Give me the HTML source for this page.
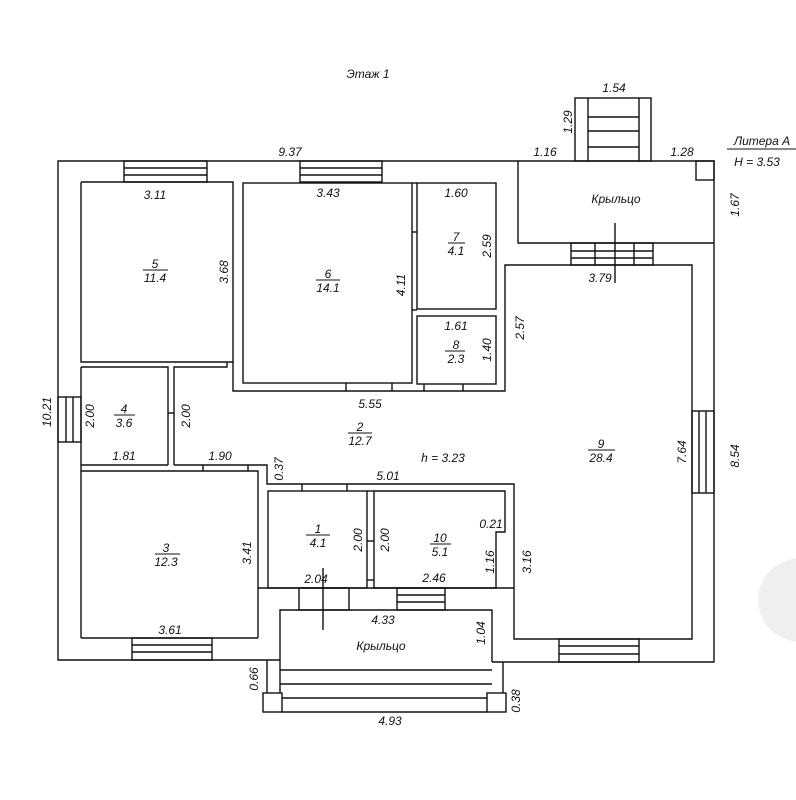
<!DOCTYPE html>
<html><head><meta charset="utf-8"><style>
html,body{margin:0;padding:0;background:#fff;}
svg{display:block;}
text{font-family:"Liberation Sans","DejaVu Sans",sans-serif;font-style:italic;font-size:12px;fill:#111;text-anchor:middle;}
</style></head><body>
<svg width="796" height="800" viewBox="0 0 796 800" xmlns="http://www.w3.org/2000/svg">
<circle cx="800" cy="600" r="42" fill="#f0f0f0"/>
<g fill="none" stroke="#111" stroke-width="1.4">
<polyline points="518,161 58,161 58,660 280,660"/>
<polyline points="492,662 714,662 714,161 518,161"/>
<polyline points="518,161 518,243 714,243"/>
<rect x="696" y="161" width="18" height="19"/>
<rect x="575" y="98" width="76" height="63"/>
<line x1="588" y1="98" x2="588" y2="161"/><line x1="639" y1="98" x2="639" y2="161"/>
<line x1="588" y1="117" x2="639" y2="117"/><line x1="588" y1="131" x2="639" y2="131"/><line x1="588" y1="147" x2="639" y2="147"/>
<rect x="571" y="243" width="82" height="22"/>
<line x1="595" y1="243" x2="595" y2="265"/><line x1="634" y1="243" x2="634" y2="265"/>
<line x1="571" y1="251" x2="653" y2="251"/><line x1="571" y1="258" x2="653" y2="258"/>
<line x1="615" y1="223" x2="615" y2="283"/>
<rect x="124" y="161" width="83" height="21"/><line x1="124" y1="168" x2="207" y2="168"/><line x1="124" y1="175" x2="207" y2="175"/>
<rect x="300" y="161" width="82" height="21"/><line x1="300" y1="168" x2="382" y2="168"/><line x1="300" y1="175" x2="382" y2="175"/>
<rect x="58" y="397" width="23" height="45"/><line x1="66" y1="397" x2="66" y2="442"/><line x1="73" y1="397" x2="73" y2="442"/>
<rect x="692" y="411" width="22" height="82"/><line x1="699" y1="411" x2="699" y2="493"/><line x1="706" y1="411" x2="706" y2="493"/>
<rect x="132" y="638" width="80" height="22"/><line x1="132" y1="645" x2="212" y2="645"/><line x1="132" y1="652" x2="212" y2="652"/>
<rect x="559" y="639" width="80" height="23"/><line x1="559" y1="646" x2="639" y2="646"/><line x1="559" y1="654" x2="639" y2="654"/>
<polyline points="81,182 233,182 233,362 81,362 81,182"/>
<polyline points="81,367 168,367 168,465"/>
<line x1="81" y1="465" x2="168" y2="465"/>
<polyline points="174,465 174,367 227,367 227,362"/>
<rect x="243" y="183" width="169" height="200"/>
<polyline points="233,362 233,391 505,391 505,265 692,265 692,639 514,639 514,484 267,484 267,465 174,465"/>
<line x1="346" y1="383" x2="346" y2="391"/><line x1="392" y1="383" x2="392" y2="391"/>
<rect x="417" y="183" width="79" height="126"/>
<rect x="417" y="316" width="79" height="68"/>
<line x1="412" y1="183" x2="417" y2="183"/>
<line x1="412" y1="232" x2="417" y2="232"/><line x1="412" y1="310" x2="417" y2="310"/>
<line x1="424" y1="384" x2="424" y2="391"/><line x1="463" y1="384" x2="463" y2="391"/>
<line x1="81" y1="367" x2="81" y2="471"/>
<line x1="168" y1="413" x2="174" y2="413"/>
<polyline points="81,471 258,471 258,588 280,588"/>
<line x1="81" y1="638" x2="258" y2="638"/>
<line x1="258" y1="588" x2="258" y2="638"/>
<line x1="81" y1="471" x2="81" y2="638"/>
<line x1="203" y1="465" x2="203" y2="471"/><line x1="248" y1="465" x2="248" y2="471"/>
<rect x="268" y="491" width="99" height="97"/>
<line x1="302" y1="484" x2="302" y2="491"/><line x1="347" y1="484" x2="347" y2="491"/>
<line x1="367" y1="491" x2="374" y2="491"/>
<line x1="367" y1="541" x2="374" y2="541"/><line x1="367" y1="580" x2="374" y2="580"/>
<polyline points="374,491 505,491 505,532 496,532 496,588 374,588 374,491"/>
<line x1="280" y1="588" x2="514" y2="588"/>
<rect x="299" y="588" width="50" height="22"/>
<rect x="397" y="588" width="48" height="22"/><line x1="397" y1="595" x2="445" y2="595"/><line x1="397" y1="602" x2="445" y2="602"/>
<line x1="323" y1="568" x2="323" y2="630"/>
<polyline points="280,693 280,610 492,610 492,662"/>
<line x1="280" y1="670" x2="492" y2="670"/>
<line x1="280" y1="684" x2="492" y2="684"/>
<line x1="282" y1="698" x2="487" y2="698"/>
<line x1="282" y1="712" x2="487" y2="712"/>
<line x1="267" y1="660" x2="267" y2="693"/>
<line x1="503" y1="662" x2="503" y2="693"/>
<rect x="263" y="693" width="19" height="19"/>
<rect x="487" y="693" width="19" height="19"/>
<line x1="727" y1="149" x2="796" y2="149" stroke-width="1"/>
<g stroke-width="1">
<line x1="143" y1="270" x2="168" y2="270"/>
<line x1="316" y1="280" x2="340" y2="280"/>
<line x1="448" y1="243" x2="465" y2="243"/>
<line x1="445" y1="351" x2="465" y2="351"/>
<line x1="114" y1="415" x2="135" y2="415"/>
<line x1="348" y1="433" x2="372" y2="433"/>
<line x1="588" y1="450" x2="615" y2="450"/>
<line x1="306" y1="535" x2="330" y2="535"/>
<line x1="430" y1="544" x2="451" y2="544"/>
<line x1="155" y1="554" x2="180" y2="554"/>
</g>
</g>
<text x="368" y="78">Этаж 1</text>
<text x="290" y="156">9.37</text>
<text x="155" y="199">3.11</text>
<text x="328" y="197">3.43</text>
<text x="456" y="197">1.60</text>
<text x="614" y="92">1.54</text>
<text transform="translate(572,122) rotate(-90)">1.29</text>
<text x="545" y="156">1.16</text>
<text x="682" y="156">1.28</text>
<text x="762" y="145">Литера А</text>
<text x="757" y="166">H = 3.53</text>
<text transform="translate(739,205) rotate(-90)">1.67</text>
<text x="616" y="203">Крыльцо</text>
<text x="155" y="268">5</text><text x="155" y="282">11.4</text>
<text transform="translate(228,272) rotate(-90)">3.68</text>
<text x="328" y="278">6</text><text x="328" y="292">14.1</text>
<text transform="translate(405,285) rotate(-90)">4.11</text>
<text x="456" y="241">7</text><text x="456" y="255">4.1</text>
<text transform="translate(491,246) rotate(-90)">2.59</text>
<text x="600" y="282">3.79</text>
<text transform="translate(524,328) rotate(-90)">2.57</text>
<text x="456" y="330">1.61</text>
<text x="456" y="349">8</text><text x="456" y="363">2.3</text>
<text transform="translate(491,350) rotate(-90)">1.40</text>
<text x="370" y="408">5.55</text>
<text transform="translate(51,412) rotate(-90)">10.21</text>
<text transform="translate(94,416) rotate(-90)">2.00</text>
<text x="124" y="413">4</text><text x="124" y="427">3.6</text>
<text transform="translate(190,416) rotate(-90)">2.00</text>
<text x="360" y="431">2</text><text x="360" y="445">12.7</text>
<text x="443" y="462">h = 3.23</text>
<text x="601" y="448">9</text><text x="601" y="462">28.4</text>
<text transform="translate(686,452) rotate(-90)">7.64</text>
<text transform="translate(739,456) rotate(-90)">8.54</text>
<text x="124" y="460">1.81</text>
<text x="220" y="460">1.90</text>
<text transform="translate(283,469) rotate(-90)">0.37</text>
<text x="388" y="480">5.01</text>
<text x="491" y="528">0.21</text>
<text x="318" y="533">1</text><text x="318" y="547">4.1</text>
<text transform="translate(362,540) rotate(-90)">2.00</text>
<text transform="translate(389,540) rotate(-90)">2.00</text>
<text x="440" y="542">10</text><text x="440" y="556">5.1</text>
<text transform="translate(251,553) rotate(-90)">3.41</text>
<text transform="translate(531,562) rotate(-90)">3.16</text>
<text transform="translate(494,562) rotate(-90)">1.16</text>
<text x="166" y="552">3</text><text x="166" y="566">12.3</text>
<text x="316" y="583">2.04</text>
<text x="434" y="582">2.46</text>
<text x="383" y="624">4.33</text>
<text x="170" y="634">3.61</text>
<text transform="translate(485,633) rotate(-90)">1.04</text>
<text x="381" y="650">Крыльцо</text>
<text transform="translate(258,679) rotate(-90)">0.66</text>
<text transform="translate(520,701) rotate(-90)">0.38</text>
<text x="390" y="725">4.93</text>
</svg>
</body></html>
